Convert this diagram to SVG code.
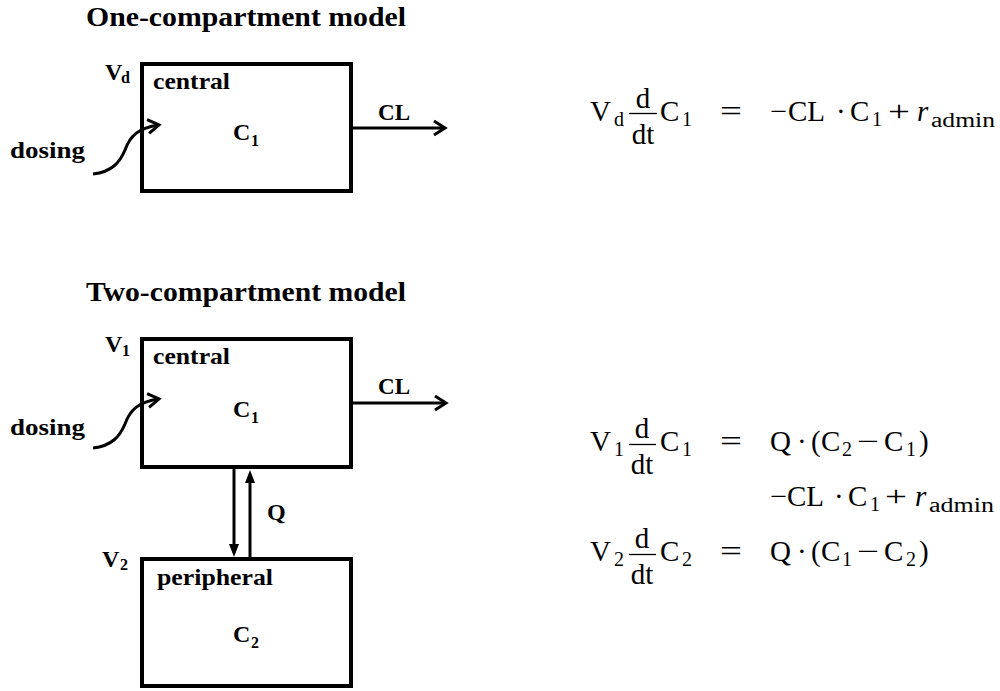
<svg xmlns="http://www.w3.org/2000/svg" width="1000" height="691" viewBox="0 0 1000 691">
<defs>
<style>
.box{fill:none;stroke:#000;stroke-width:4}
.ln{fill:none;stroke:#000;stroke-width:3}
.lb{font-family:"Liberation Serif",serif;font-weight:bold;font-size:24px;fill:#000}
.sb{font-family:"Liberation Serif",serif;font-weight:bold;font-size:16px;fill:#000}
.ti{font-family:"Liberation Serif",serif;font-weight:bold;font-size:28px;fill:#000}
.eq{font-family:"Liberation Serif",serif;font-size:29px;fill:#000}
.es{font-family:"Liberation Serif",serif;font-size:20px;fill:#000}
.bar{stroke:#000;stroke-width:1.3}
</style>
<marker id="chev" markerUnits="userSpaceOnUse" markerWidth="24" markerHeight="24" viewBox="-16 -12 24 24" refX="0" refY="0" orient="auto">
<path d="M-11,-7 L0,0 L-11,7" fill="none" stroke="#000" stroke-width="3"/>
</marker>
<marker id="tri" markerUnits="userSpaceOnUse" markerWidth="24" markerHeight="24" viewBox="-4 -12 24 24" refX="0" refY="0" orient="auto">
<path d="M0,-5 L13,0 L0,5 Z" fill="#000"/>
</marker>
</defs>
<rect width="1000" height="691" fill="#fff"/>

<text class="ti" x="86" y="26" textLength="320" lengthAdjust="spacingAndGlyphs">One-compartment model</text>
<text class="ti" x="86" y="301" textLength="320" lengthAdjust="spacingAndGlyphs">Two-compartment model</text>

<g id="central1">
<rect class="box" x="142" y="64" width="209" height="127"/>
<text class="lb" x="153" y="89" textLength="77" lengthAdjust="spacingAndGlyphs">central</text>
<text class="lb" x="233" y="140">C</text><text class="sb" x="251" y="146">1</text>
<text class="lb" x="105" y="80">V</text><text class="sb" x="121" y="83">d</text>
</g>

<g id="central2">
<rect class="box" x="142" y="339" width="209" height="128"/>
<text class="lb" x="153" y="364" textLength="77" lengthAdjust="spacingAndGlyphs">central</text>
<text class="lb" x="233" y="417">C</text><text class="sb" x="251" y="423">1</text>
<text class="lb" x="105" y="352">V</text><text class="sb" x="122" y="356">1</text>
</g>

<g id="peripheral">
<rect class="box" x="142" y="559" width="209" height="127"/>
<text class="lb" x="157" y="585" textLength="116" lengthAdjust="spacingAndGlyphs">peripheral</text>
<text class="lb" x="233" y="642">C</text><text class="sb" x="251" y="648">2</text>
<text class="lb" x="102" y="567">V</text><text class="sb" x="120" y="570">2</text>
</g>

<g id="labels">
<text class="lb" x="10" y="158" textLength="75" lengthAdjust="spacingAndGlyphs">dosing</text>
<text class="lb" x="378" y="120" textLength="32" lengthAdjust="spacingAndGlyphs">CL</text>
<text class="lb" x="10" y="435" textLength="75" lengthAdjust="spacingAndGlyphs">dosing</text>
<text class="lb" x="378" y="394" textLength="32" lengthAdjust="spacingAndGlyphs">CL</text>
<text class="lb" x="267" y="520">Q</text>
</g>

<g id="connectors">
<path class="ln" d="M351,128 L445,128" marker-end="url(#chev)"/>
<path class="ln" d="M351,403 L446,403" marker-end="url(#chev)"/>
<path class="ln" d="M93,174 C112,172 120,162 125,150 C130,136 138,128 159,125" marker-end="url(#chev)"/>
<path class="ln" d="M93,448 C112,446 120,436 125,424 C130,410 138,402 159,399" marker-end="url(#chev)"/>
<path class="ln" d="M234,469 L234,544" marker-end="url(#tri)"/>
<path class="ln" d="M250,557 L250,483" marker-end="url(#tri)"/>
</g>

<g id="eq1">
<text class="eq" y="121"><tspan x="590">V</tspan><tspan x="660">C</tspan><tspan x="720" textLength="22" lengthAdjust="spacingAndGlyphs">=</tspan><tspan x="770" textLength="17" lengthAdjust="spacingAndGlyphs">−</tspan><tspan x="788">CL</tspan><tspan x="836">·</tspan><tspan x="850">C</tspan><tspan x="888" textLength="22" lengthAdjust="spacingAndGlyphs">+</tspan><tspan x="917" font-style="italic">r</tspan></text>
<text class="es" y="126"><tspan x="614">d</tspan><tspan x="682">1</tspan><tspan x="872">1</tspan></text>
<text class="es" x="931" y="127" textLength="64" lengthAdjust="spacingAndGlyphs">admin</text>
<text class="eq" x="643" y="108" text-anchor="middle">d</text>
<line class="bar" x1="629" y1="113.5" x2="657" y2="113.5"/>
<text class="eq" x="643" y="144" text-anchor="middle">dt</text>
</g>

<g id="eq2">
<text class="eq" y="451"><tspan x="590">V</tspan><tspan x="660">C</tspan><tspan x="720" textLength="22" lengthAdjust="spacingAndGlyphs">=</tspan><tspan x="770">Q</tspan><tspan x="797">·</tspan><tspan x="811">(</tspan><tspan x="821">C</tspan><tspan x="857" textLength="22" lengthAdjust="spacingAndGlyphs">−</tspan><tspan x="884">C</tspan><tspan x="919">)</tspan></text>
<text class="es" y="456"><tspan x="614">1</tspan><tspan x="682">1</tspan><tspan x="842">2</tspan><tspan x="906">1</tspan></text>
<text class="eq" x="642" y="438" text-anchor="middle">d</text>
<line class="bar" x1="629" y1="444.5" x2="656" y2="444.5"/>
<text class="eq" x="642" y="474" text-anchor="middle">dt</text>

<text class="eq" y="506"><tspan x="770" textLength="17" lengthAdjust="spacingAndGlyphs">−</tspan><tspan x="787">CL</tspan><tspan x="834">·</tspan><tspan x="848">C</tspan><tspan x="885" textLength="22" lengthAdjust="spacingAndGlyphs">+</tspan><tspan x="915" font-style="italic">r</tspan></text>
<text class="es" y="511"><tspan x="870">1</tspan></text>
<text class="es" x="929" y="512" textLength="65" lengthAdjust="spacingAndGlyphs">admin</text>

<text class="eq" y="561"><tspan x="590">V</tspan><tspan x="660">C</tspan><tspan x="720" textLength="22" lengthAdjust="spacingAndGlyphs">=</tspan><tspan x="770">Q</tspan><tspan x="797">·</tspan><tspan x="811">(</tspan><tspan x="821">C</tspan><tspan x="857" textLength="22" lengthAdjust="spacingAndGlyphs">−</tspan><tspan x="884">C</tspan><tspan x="919">)</tspan></text>
<text class="es" y="566"><tspan x="614">2</tspan><tspan x="682">2</tspan><tspan x="842">1</tspan><tspan x="906">2</tspan></text>
<text class="eq" x="642" y="548" text-anchor="middle">d</text>
<line class="bar" x1="629" y1="554.5" x2="656" y2="554.5"/>
<text class="eq" x="642" y="584" text-anchor="middle">dt</text>
</g>
</svg>
